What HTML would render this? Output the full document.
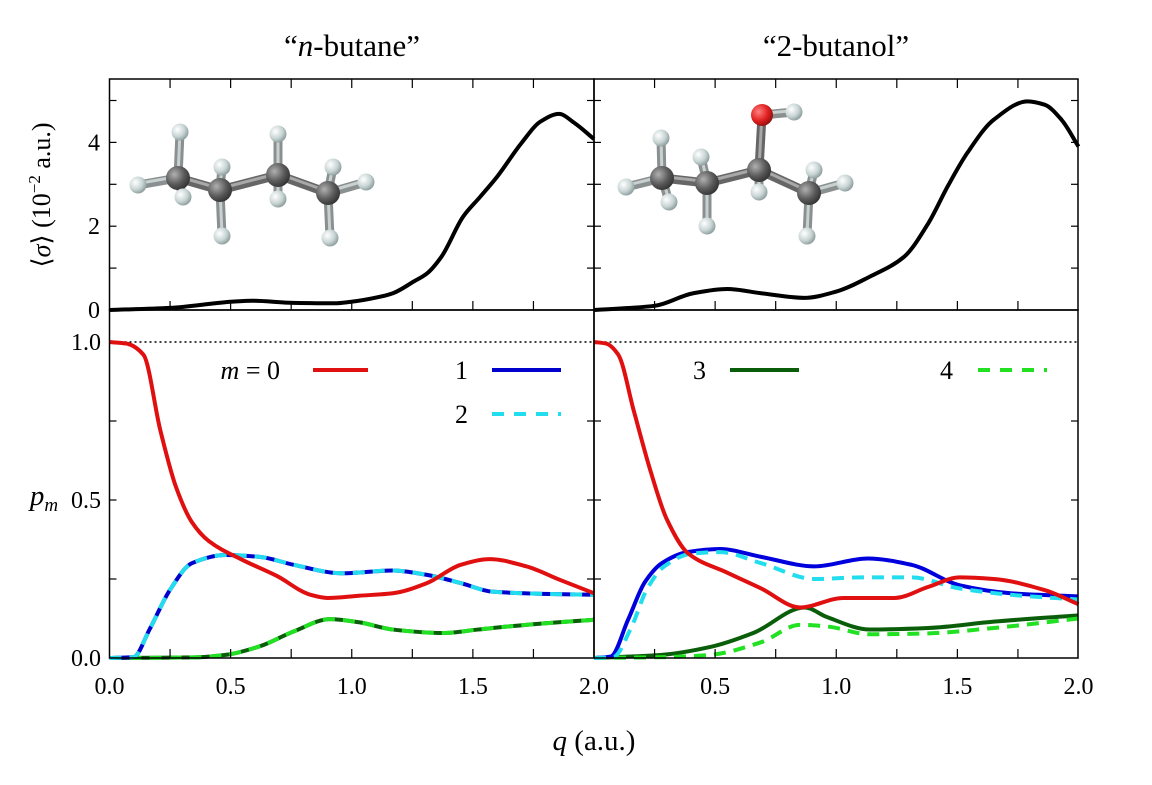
<!DOCTYPE html>
<html><head><meta charset="utf-8"><style>
html,body{margin:0;padding:0;background:#fff;}
svg{display:block;font-family:"Liberation Serif",serif;}
</style></head><body>
<svg id="chart" width="1152" height="785" viewBox="0 0 1152 785" xmlns="http://www.w3.org/2000/svg">
<defs>
<radialGradient id="gC" cx="0.35" cy="0.35" r="0.7"><stop offset="0" stop-color="#b0b0b0"/><stop offset="0.6" stop-color="#5a5a5a"/><stop offset="1" stop-color="#333"/></radialGradient>
<radialGradient id="gH" cx="0.35" cy="0.35" r="0.7"><stop offset="0" stop-color="#ffffff"/><stop offset="0.6" stop-color="#c8d4d4"/><stop offset="1" stop-color="#8a9a9a"/></radialGradient>
<radialGradient id="gO" cx="0.35" cy="0.35" r="0.7"><stop offset="0" stop-color="#ff8080"/><stop offset="0.6" stop-color="#e02020"/><stop offset="1" stop-color="#901010"/></radialGradient>
</defs>
<g id="mol"></g>
<g id="plot"></g>
<g id="frames"></g>
<text x="352" y="56" font-size="31" text-anchor="middle">“<tspan font-style="italic">n</tspan>-butane”</text>
<text x="836" y="56" font-size="31" text-anchor="middle">“2-butanol”</text>
<text transform="translate(50,195) rotate(-90)" font-size="26" text-anchor="middle">⟨<tspan font-style="italic">σ</tspan>⟩ (10<tspan font-size="17" dy="-10">−2</tspan><tspan dy="10"> a.u.)</tspan></text>
<text x="44" y="505" font-size="29" font-style="italic" text-anchor="middle">p<tspan font-size="19" dy="6">m</tspan></text>
<text x="594" y="750" font-size="29" text-anchor="middle"><tspan font-style="italic">q</tspan> (a.u.)</text>
<g id="legend"></g>
</svg>
<script>
// ---- data ----
const topQLeft = [0,0.25,0.51,0.59,0.76,0.93,0.99,1.12,1.17,1.256,1.31,1.37,1.46,1.53,1.60,1.70,1.78,1.855,1.92,2.0];
const topSigmaLeft = [0,0.05,0.2,0.22,0.17,0.16,0.19,0.32,0.4,0.68,0.87,1.27,2.23,2.7,3.18,3.98,4.5,4.68,4.46,4.08];
const topQRight = [0,0.25,0.41,0.55,0.69,0.87,1.0,1.14,1.28,1.38,1.46,1.54,1.65,1.79,1.86,1.93,2.0];
const topSigmaRight = [0,0.1,0.4,0.5,0.4,0.29,0.44,0.8,1.27,2.07,2.95,3.74,4.54,4.98,4.9,4.54,3.9];

const redQL = [0,0.07,0.14,0.21,0.275,0.34,0.41,0.55,0.69,0.83,0.9,1.03,1.17,1.31,1.45,1.57,1.72,1.86,2.0];
const redPL = [1.0,0.995,0.96,0.72,0.54,0.43,0.37,0.31,0.26,0.20,0.19,0.197,0.205,0.237,0.295,0.313,0.29,0.247,0.205];
const blueQL = [0,0.1,0.165,0.25,0.34,0.48,0.62,0.76,0.96,1.17,1.31,1.45,1.58,1.79,2.0];
const bluePL = [0,0.003,0.09,0.216,0.30,0.326,0.32,0.295,0.268,0.277,0.263,0.237,0.21,0.203,0.2];
const cyanPL = [0,0.003,0.09,0.216,0.30,0.326,0.32,0.295,0.268,0.277,0.263,0.237,0.21,0.203,0.2];
const greenQL = [0,0.35,0.48,0.62,0.76,0.91,1.03,1.17,1.38,1.52,1.72,2.0];
const dgreenPL = [0,0.002,0.01,0.037,0.084,0.123,0.113,0.09,0.079,0.09,0.105,0.121];
const lgreenPL = [0,0.002,0.01,0.037,0.084,0.123,0.113,0.09,0.079,0.09,0.105,0.121];

const redQR = [0,0.05,0.1,0.165,0.234,0.30,0.39,0.55,0.69,0.85,1.03,1.24,1.38,1.51,1.65,1.86,2.0];
const redPR = [1.0,0.995,0.96,0.78,0.59,0.44,0.33,0.27,0.22,0.16,0.19,0.19,0.225,0.255,0.25,0.215,0.17];
const blueQR = [0,0.07,0.14,0.21,0.28,0.385,0.52,0.69,0.91,1.13,1.31,1.51,1.72,2.0];
const bluePR = [0,0.005,0.12,0.24,0.30,0.335,0.345,0.32,0.29,0.315,0.295,0.23,0.205,0.195];
const cyanQR = [0,0.08,0.15,0.22,0.29,0.4,0.52,0.69,0.91,1.1,1.31,1.51,1.72,2.0];
const cyanPR = [0,0.003,0.09,0.22,0.29,0.33,0.335,0.30,0.25,0.255,0.255,0.22,0.20,0.185];
const dgreenQR = [0,0.28,0.48,0.66,0.87,0.96,1.14,1.38,1.65,2.0];
const dgreenPR = [0,0.01,0.035,0.08,0.16,0.13,0.09,0.095,0.115,0.135];
const lgreenQR = [0,0.3,0.48,0.69,0.85,0.96,1.14,1.38,1.65,2.0];
const lgreenPR = [0,0.003,0.01,0.05,0.105,0.10,0.075,0.078,0.095,0.125];

const xTickLabelsLeft = ["0.0","0.5","1.0","1.5"];
const xTickLabelsRight = ["2.0","0.5","1.0","1.5","2.0"];
const xTickValuesLeft = [0,0.5,1.0,1.5];
const xTickValuesRight = [0,0.5,1.0,1.5,2.0];
const topYTicks = [0,2,4];
const botYTicks = [0,0.5,1.0];
const botYTickLabels = ["0.0","0.5","1.0"];

// ---- axes ----
const NS="http://www.w3.org/2000/svg";
const P = {L0:109.5, R0:594, W:242.25, topT:79};
function xL(q){return P.L0 + q*P.W;}
function xR(q){return P.R0 + q*P.W;}
function yTop(s){return 310 - s*41.9;}
function yBot(p){return 658 - p*316;}
function mk(tag, attrs, parent){const e=document.createElementNS(NS,tag);for(const k in attrs)e.setAttribute(k,attrs[k]);parent.appendChild(e);return e;}

// monotone cubic (Fritsch-Carlson) path
function monotone(pts){
  const n=pts.length, dx=[], s=[], m=[];
  for(let i=0;i<n-1;i++){dx[i]=pts[i+1][0]-pts[i][0]; s[i]=(pts[i+1][1]-pts[i][1])/dx[i];}
  m[0]=s[0]; m[n-1]=s[n-2];
  for(let i=1;i<n-1;i++){ if(s[i-1]*s[i]<=0) m[i]=0; else { const w1=2*dx[i]+dx[i-1], w2=dx[i]+2*dx[i-1]; m[i]=(w1+w2)/(w1/s[i-1]+w2/s[i]); } }
  let d="M"+pts[0][0].toFixed(2)+","+pts[0][1].toFixed(2);
  for(let i=0;i<n-1;i++){
    const h=dx[i]/3;
    d+=" C"+(pts[i][0]+h).toFixed(2)+","+(pts[i][1]+m[i]*h).toFixed(2)+" "+(pts[i+1][0]-h).toFixed(2)+","+(pts[i+1][1]-m[i+1]*h).toFixed(2)+" "+pts[i+1][0].toFixed(2)+","+pts[i+1][1].toFixed(2);
  }
  return d;
}
const plot=document.getElementById('plot');
function series(qs, vs, fx, fy, color, dash, name){
  const pts=qs.map((q,i)=>[fx(q),fy(vs[i])]);
  const a={d:monotone(pts),fill:"none",stroke:color,"stroke-width":4,"stroke-linejoin":"round"};
  if(dash)a["stroke-dasharray"]=dash;
  const el=mk('path',a,plot);
  
  
}
series(topQLeft, topSigmaLeft, xL, yTop, "#000", null, "sigma-curve-n-butane");
series(topQRight, topSigmaRight, xR, yTop, "#000", null, "sigma-curve-2-butanol");
const dl=mk('line',{x1:P.L0,x2:1078,y1:yBot(1),y2:yBot(1),stroke:"#000","stroke-width":1.5,"stroke-dasharray":"2,3"},plot);


series(greenQL, dgreenPL, xL, yBot, "#0a5e0a", null, "p3-curve-n-butane");
series(greenQL, lgreenPL, xL, yBot, "#22e022", "12,8", "p4-curve-n-butane");
series(blueQL, bluePL, xL, yBot, "#0000cc", null, "p1-curve-n-butane");
series(blueQL, cyanPL, xL, yBot, "#22ddee", "12,8", "p2-curve-n-butane");
series(redQL, redPL, xL, yBot, "#e01010", null, "p0-curve-n-butane");
series(dgreenQR, dgreenPR, xR, yBot, "#0a5e0a", null, "p3-curve-2-butanol");
series(lgreenQR, lgreenPR, xR, yBot, "#22e022", "12,8", "p4-curve-2-butanol");
series(blueQR, bluePR, xR, yBot, "#0000dd", null, "p1-curve-2-butanol");
series(cyanQR, cyanPR, xR, yBot, "#22ddee", "12,8", "p2-curve-2-butanol");
series(redQR, redPR, xR, yBot, "#e01010", null, "p0-curve-2-butanol");

const fr=document.getElementById('frames');
function frame(x0,y0,x1,y1,name){
  const r=mk('rect',{x:x0,y:y0,width:x1-x0,height:y1-y0,fill:"none",stroke:"#000","stroke-width":1.5},fr);
  
  
}
frame(P.L0,P.topT,594,310,"panel-top-left");
frame(594,P.topT,1078,310,"panel-top-right");
frame(P.L0,310,594,658,"panel-bottom-left");
frame(594,310,1078,658,"panel-bottom-right");
function tk(x1,y1,x2,y2){mk('line',{x1,y1,x2,y2,stroke:"#000","stroke-width":1.2},fr);}
for(let k=1;k<8;k++){
  const q=k*0.25;
  [xL,xR].forEach(f=>{const x=f(q);
    tk(x,P.topT,x,P.topT+9); tk(x,310,x,301);
    tk(x,658,x,649);});
}
for(let s=1;s<=5;s++){const y=yTop(s);tk(P.L0,y,P.L0+7,y);tk(594,y,587,y);tk(594,y,601,y);tk(1078,y,1071,y);}
for(let k=1;k<4;k++){const y=yBot(k*0.25);tk(P.L0,y,P.L0+7,y);tk(594,y,587,y);tk(594,y,601,y);tk(1078,y,1071,y);}
topYTicks.forEach(v=>{const t=mk('text',{x:100,y:yTop(v)+8,"font-size":24,"text-anchor":"end"},fr);t.textContent=String(v);
  
  });
botYTicks.forEach((v,i)=>{const t=mk('text',{x:101,y:yBot(v)+8,"font-size":24,"text-anchor":"end"},fr);t.textContent=botYTickLabels[i];
  
  });
xTickValuesLeft.forEach((v,i)=>{const t=mk('text',{x:xL(v),y:694,"font-size":24,"text-anchor":"middle"},fr);t.textContent=xTickLabelsLeft[i];
  
  });
xTickValuesRight.forEach((v,i)=>{const t=mk('text',{x:xR(v),y:694,"font-size":24,"text-anchor":"middle"},fr);t.textContent=xTickLabelsRight[i];
  
  });

const lg=document.getElementById('legend');
function entry(tx,ty,label,x1,x2,color,dash,name,italic){
  const g=mk('g',{},lg);
  
  
  const t=mk('text',{x:tx,y:ty+9,"font-size":26,"text-anchor":"end"},g);
  if(italic){t.innerHTML='<tspan font-style="italic">m</tspan> = 0';}else t.textContent=label;
  const a={x1,x2,y1:ty,y2:ty,stroke:color,"stroke-width":4};
  if(dash)a["stroke-dasharray"]=dash;
  mk('line',a,g);
}
entry(280,370,"m = 0",313,368,"#e01010",null,"legend-entry-m0",true);
entry(468,370,"1",492,561,"#0000cc",null,"legend-entry-m1");
entry(468,414,"2",492,561,"#22ddee","12,10","legend-entry-m2");
entry(706,370,"3",730,799,"#0a5e0a",null,"legend-entry-m3");
entry(953,370,"4",978,1047,"#22e022","12,10","legend-entry-m4");

const mol=document.getElementById('mol');
function molecule(atoms,bonds,name){
  const g=mk('g',{},mol);
  
  
  bonds.forEach(b=>{const a=atoms[b[0]],c=atoms[b[1]];
    const hc=(a[2]=='H'||c[2]=='H');
    mk('line',{x1:a[0],y1:a[1],x2:c[0],y2:c[1],stroke:hc?"#8a9090":"#666","stroke-width":9,"stroke-linecap":"round"},g);
    mk('line',{x1:a[0],y1:a[1]-1.5,x2:c[0],y2:c[1]-1.5,stroke:hc?"#c8d0d0":"#a8a8a8","stroke-width":3},g);});
  atoms.forEach(a=>{const r=a[2]=='C'?12:a[2]=='O'?11:8.5;
    mk('circle',{cx:a[0],cy:a[1],r,fill:a[2]=='C'?"url(#gC)":a[2]=='O'?"url(#gO)":"url(#gH)"},g);});
}
molecule([[178,178,'C'],[220,190,'C'],[278,175,'C'],[328,193,'C'],
  [180,132,'H'],[138,185,'H'],[183,197,'H'],[222,167,'H'],[222,236,'H'],[278,134,'H'],[278,199,'H'],[333,167,'H'],[366,182,'H'],[330,238,'H']],
  [[0,1],[1,2],[2,3],[0,4],[0,5],[0,6],[1,7],[1,8],[2,9],[2,10],[3,11],[3,12],[3,13]],"molecule-n-butane");
molecule([[662,178,'C'],[707,183,'C'],[759,170,'C'],[809,193,'C'],[762,115,'O'],[794,112,'H'],
  [661,138,'H'],[626,187,'H'],[669,202,'H'],[701,157,'H'],[707,226,'H'],[759,192,'H'],[814,170,'H'],[845,183,'H'],[807,236,'H']],
  [[0,1],[1,2],[2,3],[2,4],[4,5],[0,6],[0,7],[0,8],[1,9],[1,10],[2,11],[3,12],[3,13],[3,14]],"molecule-2-butanol");
</script>
</body></html>
